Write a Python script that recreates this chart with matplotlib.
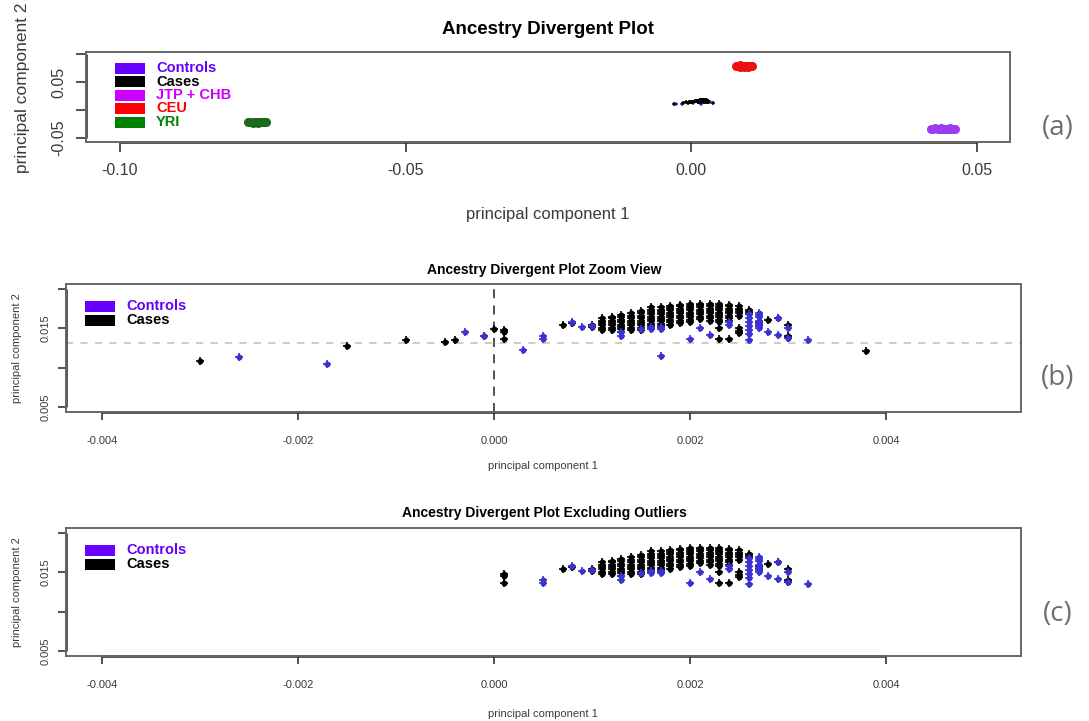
import matplotlib
matplotlib.use("Agg")
import matplotlib.pyplot as plt
from matplotlib.patches import Rectangle

plt.rcParams['font.family'] = ['Liberation Sans', 'DejaVu Sans']

W, H = 1089, 721

# ---- reference populations (panel a) ----
yri_pc1 = [-0.0776, -0.0772, -0.0768, -0.0764, -0.0760, -0.0757, -0.0753,
           -0.0750, -0.0747, -0.0744, -0.0766, -0.0758, -0.0752]
yri_pc2 = [-0.0221, -0.0218, -0.0224, -0.0220, -0.0217, -0.0223, -0.0219,
           -0.0222, -0.0218, -0.0220, -0.0215, -0.0226, -0.0216]

ceu_pc1 = [0.0078, 0.0082, 0.0085, 0.0088, 0.0091, 0.0094, 0.0097,
           0.0100, 0.0103, 0.0106, 0.0086, 0.0093, 0.0099]
ceu_pc2 = [0.0781, 0.0786, 0.0775, 0.0790, 0.0779, 0.0793, 0.0784,
           0.0776, 0.0788, 0.0782, 0.0795, 0.0771, 0.0792]

jpt_pc1 = [0.0419, 0.0423, 0.0427, 0.0431, 0.0435, 0.0439, 0.0443, 0.0447,
           0.0451, 0.0455, 0.0459, 0.0462, 0.0437, 0.0445, 0.0453]
jpt_pc2 = [-0.0332, -0.0336, -0.0330, -0.0340, -0.0334, -0.0343, -0.0337, -0.0331,
           -0.0345, -0.0339, -0.0335, -0.0341, -0.0328, -0.0347, -0.0329]

# ---- cases: PC1 column -> PC2 values in that column ----
case_pc1 = [-0.0030, -0.0015, -0.0009, -0.0005, -0.0004, -0.0001, 0.0000, 0.0001,
            0.0007, 0.0008, 0.0010, 0.0011, 0.0012, 0.0013, 0.0014, 0.0015,
            0.0016, 0.0017, 0.0018, 0.0019, 0.0020, 0.0021, 0.0022, 0.0023,
            0.0024, 0.0025, 0.0026, 0.0027, 0.0028, 0.0029, 0.0030, 0.0038]
case_pc2 = [
    [0.0109], [0.0128], [0.0135], [0.0133], [0.0135], [0.0140], [0.0149],
    [0.0137, 0.0145, 0.0148],
    [0.0154], [0.0157], [0.0152, 0.0155],
    [0.0148, 0.0151, 0.0154, 0.0157, 0.0160, 0.0163],
    [0.0148, 0.0151, 0.0154, 0.0157, 0.0160, 0.0163, 0.0165],
    [0.0146, 0.0149, 0.0152, 0.0155, 0.0158, 0.0161, 0.0164, 0.0167],
    [0.0148, 0.0151, 0.0154, 0.0157, 0.0160, 0.0163, 0.0166, 0.0169],
    [0.0148, 0.0151, 0.0154, 0.0157, 0.0160, 0.0163, 0.0166, 0.0169, 0.0172],
    [0.0150, 0.0153, 0.0156, 0.0159, 0.0162, 0.0165, 0.0168, 0.0171, 0.0174, 0.0177],
    [0.0150, 0.0153, 0.0156, 0.0159, 0.0162, 0.0165, 0.0168, 0.0171, 0.0174, 0.0177],
    [0.0155, 0.0158, 0.0161, 0.0164, 0.0167, 0.0170, 0.0173, 0.0176, 0.0179],
    [0.0157, 0.0160, 0.0163, 0.0166, 0.0169, 0.0172, 0.0175, 0.0178, 0.0180],
    [0.0158, 0.0161, 0.0164, 0.0167, 0.0170, 0.0173, 0.0176, 0.0179, 0.0181],
    [0.0162, 0.0165, 0.0168, 0.0171, 0.0174, 0.0177, 0.0180, 0.0181],
    [0.0160, 0.0163, 0.0166, 0.0169, 0.0172, 0.0175, 0.0178, 0.0181],
    [0.0137, 0.0150, 0.0158, 0.0161, 0.0164, 0.0167, 0.0170, 0.0173, 0.0176, 0.0179, 0.0181],
    [0.0137, 0.0160, 0.0163, 0.0166, 0.0169, 0.0172, 0.0175, 0.0178, 0.0180],
    [0.0144, 0.0147, 0.0150, 0.0166, 0.0169, 0.0172, 0.0175, 0.0178],
    [0.0168, 0.0171, 0.0174],
    [0.0155, 0.0158],
    [0.0161],
    [0.0163],
    [0.0138, 0.0141, 0.0154],
    [0.0122],
]

# ---- controls ----
ctrl_pc1 = [-0.0026, -0.0017, -0.0003, -0.0001, 0.0003, 0.0005, 0.0008, 0.0009,
            0.0010, 0.0013, 0.0015, 0.0016, 0.0017, 0.0020, 0.0021, 0.0022,
            0.0024, 0.0026, 0.0027, 0.0028, 0.0029, 0.0030, 0.0032]
ctrl_pc2 = [
    [0.0114], [0.0105], [0.0145], [0.0140], [0.0123], [0.0137, 0.0140],
    [0.0158], [0.0152], [0.0153], [0.0140, 0.0146], [0.0149], [0.0149, 0.0152],
    [0.0115, 0.0149, 0.0152], [0.0137], [0.0150], [0.0142], [0.0155, 0.0158],
    [0.0136, 0.0143, 0.0148, 0.0153, 0.0158, 0.0163, 0.0168],
    [0.0150, 0.0153, 0.0156, 0.0160, 0.0164, 0.0167, 0.0170],
    [0.0145], [0.0142, 0.0163], [0.0138, 0.0150], [0.0135],
]

mean_pc2 = 0.0132  # horizontal dashed reference line in zoom view

legend_labels = ['Controls', 'Cases', 'JTP + CHB', 'CEU', 'YRI']
legend_colors = ['#6600ff', '#000000', '#cc00ff', '#ff0000', '#008000']

CTRL_COLOR = '#3a33d2'
CASE_COLOR = '#000000'


def flatten(cols, ys):
    xs, yy = [], []
    for x, col in zip(cols, ys):
        for y in col:
            xs.append(x)
            yy.append(y)
    return xs, yy


case_x, case_y = flatten(case_pc1, case_pc2)
ctrl_x, ctrl_y = flatten(ctrl_pc1, ctrl_pc2)


def keep(x, y):
    # outlier-free subset shown in the bottom panel
    return 0.0 < x < 0.0035 and y > 0.0125


case_xc = [x for x, y in zip(case_x, case_y) if keep(x, y)]
case_yc = [y for x, y in zip(case_x, case_y) if keep(x, y)]
ctrl_xc = [x for x, y in zip(ctrl_x, ctrl_y) if keep(x, y)]
ctrl_yc = [y for x, y in zip(ctrl_x, ctrl_y) if keep(x, y)]

fig = plt.figure(figsize=(W / 100, H / 100), dpi=100)


def add_axes(l, t, r, b):
    return fig.add_axes([l / W, 1 - b / H, (r - l) / W, (b - t) / H])


def ftext(px, py, s, **kw):
    return fig.text(px / W, 1 - py / H, s, **kw)


def pts(ax, x, y, color, ms):
    # "+" marks with a dark core, dense stacks merge into blobs
    ax.plot(x, y, 'o', color=color, ms=ms * 0.78, mew=0)
    ax.plot(x, y, '+', color=color, ms=ms, mew=1.2)


def style(ax, xt, xl, yt, yl, fs, ticklen, xpad, ypad):
    for s in ax.spines.values():
        s.set_color('#666666')
        s.set_linewidth(1.4)
    ax.set_xticks(xt, xl)
    ax.set_yticks(yt, yl)
    ax.tick_params(direction='out', length=ticklen, width=1.2, color='#333333',
                   labelsize=fs, labelcolor='#3a3a3a')
    ax.tick_params(axis='x', pad=xpad)
    ax.tick_params(axis='y', pad=ypad, labelrotation=90)
    for lab in ax.get_yticklabels():
        lab.set_verticalalignment('center')
    # R-style axis line between first and last tick
    ax.plot([xt[0], xt[-1]], [0, 0], transform=ax.get_xaxis_transform(),
            color='#222222', lw=1.8, clip_on=False, solid_capstyle='butt')
    ax.plot([0, 0], [yt[0], yt[-1]], transform=ax.get_yaxis_transform(),
            color='#222222', lw=1.8, clip_on=False, solid_capstyle='butt')


def legend(x0, y0, step, labels, colors, fs):
    for i, (lab, col) in enumerate(zip(labels, colors)):
        yc = y0 + i * step
        fig.add_artist(Rectangle((x0 / W, 1 - (yc + 5.5) / H), 30 / W, 11 / H,
                                 transform=fig.transFigure, color=col, lw=0))
        ftext(x0 + 41, yc, lab, color=col, fontsize=fs, fontweight='bold',
              ha='left', va='center')


# ---------------- panel (a) ----------------
ax = add_axes(86, 52, 1010, 142)
ax.plot(ctrl_x, ctrl_y, '+', color=CTRL_COLOR, ms=3, mew=1.1)
ax.plot(case_x, case_y, '+', color=CASE_COLOR, ms=3, mew=1.1)
ax.plot(yri_pc1, yri_pc2, 'o', color='#1a6a1a', ms=6.5, mew=0)
ax.plot(ceu_pc1, ceu_pc2, 'o', color='#ee1111', ms=6.5, mew=0)
ax.plot(jpt_pc1, jpt_pc2, 'o', color='#9b3cf0', ms=6.5, mew=0)
ax.set_xlim(-0.10595, 0.05578)
ax.set_ylim(-0.05714, 0.10357)
style(ax, [-0.10, -0.05, 0.0, 0.05], ['-0.10', '-0.05', '0.00', '0.05'],
      [-0.05, 0.0, 0.05, 0.10], ['-0.05', '', '0.05', ''], 11.5, 7, 8, 7)
ftext(548, 30, 'Ancestry Divergent Plot', fontsize=13.5, fontweight='bold',
      ha='center', va='center')
ftext(548, 214, 'principal component 1', fontsize=12, color='#3a3a3a',
      ha='center', va='center')
ftext(22, 88, 'principal component 2', fontsize=12.5, color='#3a3a3a',
      ha='center', va='center', rotation=90)
legend(115, 68, 13.5, legend_labels, legend_colors, 10.5)

# ---------------- panel (b) ----------------
xt_b = [-0.004, -0.002, 0.0, 0.002, 0.004]
xl_b = ['-0.004', '-0.002', '0.000', '0.002', '0.004']
yt_b = [0.005, 0.010, 0.015, 0.020]
yl_b = ['0.005', '', '0.015', '']

ax = add_axes(66, 284, 1021, 412)
ax.axhline(mean_pc2, color='#c8c8c8', lw=1.3, dashes=(4, 4))
ax.axvline(0.0, color='#444444', lw=1.3, dashes=(5, 4))
pts(ax, case_x, case_y, CASE_COLOR, 5.5)
pts(ax, ctrl_x, ctrl_y, CTRL_COLOR, 5.5)
ax.set_xlim(-0.004367, 0.005378)
ax.set_ylim(0.00443, 0.02063)
style(ax, xt_b, xl_b, yt_b, yl_b, 8, 6, 11, 5)
ftext(544, 270, 'Ancestry Divergent Plot Zoom View', fontsize=10,
      fontweight='bold', ha='center', va='center')
ftext(543, 466, 'principal component 1', fontsize=8, color='#3a3a3a',
      ha='center', va='center')
ftext(17, 348, 'principal component 2', fontsize=8, color='#3a3a3a',
      ha='center', va='center', rotation=90)
legend(85, 306, 14, legend_labels[:2], legend_colors[:2], 10.5)

# ---------------- panel (c) ----------------
ax = add_axes(66, 528, 1021, 656)
pts(ax, case_xc, case_yc, CASE_COLOR, 5.5)
pts(ax, ctrl_xc, ctrl_yc, CTRL_COLOR, 5.5)
ax.set_xlim(-0.004367, 0.005378)
ax.set_ylim(0.00443, 0.02063)
style(ax, xt_b, xl_b, yt_b, yl_b, 8, 6, 11, 5)
ftext(544, 513, 'Ancestry Divergent Plot Excluding Outliers', fontsize=10,
      fontweight='bold', ha='center', va='center')
ftext(543, 714, 'principal component 1', fontsize=8, color='#3a3a3a',
      ha='center', va='center')
ftext(17, 592, 'principal component 2', fontsize=8, color='#3a3a3a',
      ha='center', va='center', rotation=90)
legend(85, 550, 14, legend_labels[:2], legend_colors[:2], 10.5)

# panel letters
for lab, yc in [('(a)', 128), ('(b)', 378), ('(c)', 614)]:
    ftext(1058, yc, lab, fontsize=20, color='#6e6e6e', family='Open Sans',
          ha='center', va='center')

fig.savefig('out.png', dpi=100)
